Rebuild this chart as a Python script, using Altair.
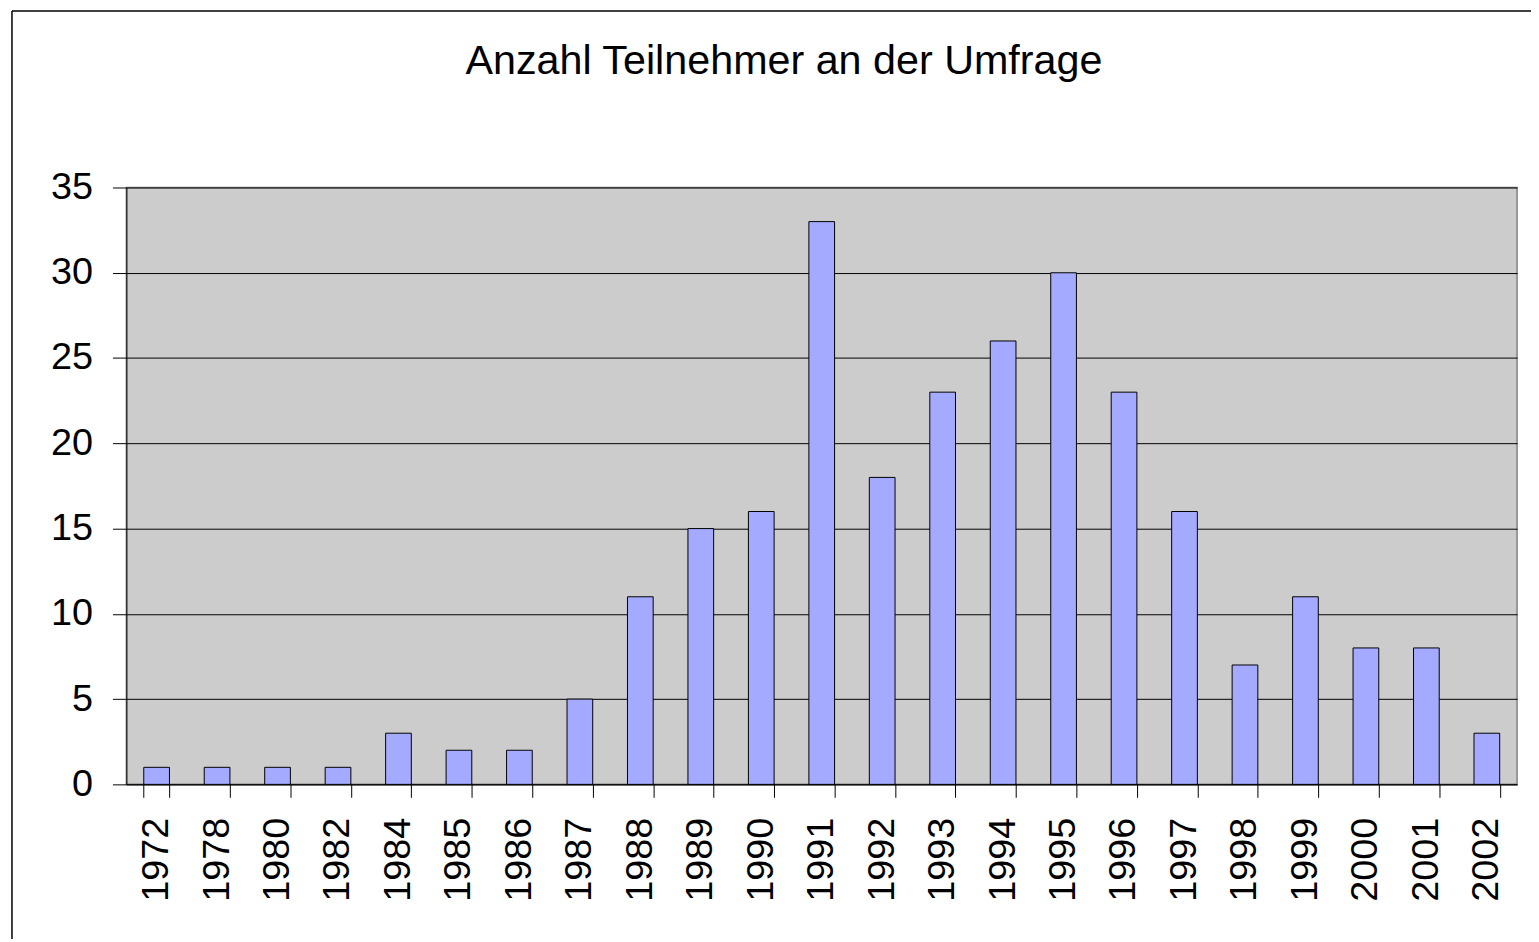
import altair as alt
import pandas as pd

years = ["1972", "1978", "1980", "1982", "1984", "1985", "1986", "1987", "1988",
         "1989", "1990", "1991", "1992", "1993", "1994", "1995", "1996", "1997",
         "1998", "1999", "2000", "2001", "2002"]
counts = [1, 1, 1, 1, 3, 2, 2, 5, 11, 15, 16, 33, 18, 23, 26, 30, 23, 16, 7, 11, 8, 8, 3]
y_ticks = [0, 5, 10, 15, 20, 25, 30, 35]

df = pd.DataFrame({"Jahr": years, "Anzahl": counts})
FONT = "Liberation Sans"

W, H = 1398, 600
one = pd.DataFrame({"a": [0]})

frame_top = alt.Chart(one).mark_rule(color="black", strokeWidth=1.5, clip=False).encode(
    x=alt.value(-115), x2=alt.value(W + 14), y=alt.value(-177.5))
frame_left = alt.Chart(one).mark_rule(color="black", strokeWidth=1.5, clip=False).encode(
    x=alt.value(-115), y=alt.value(-177.5), y2=alt.value(H + 160))

bars = alt.Chart(df).mark_bar(
    color="#A4AAFF", stroke="black", strokeWidth=1
).encode(
    x=alt.X("Jahr:N", sort=years, title=None,
            scale=alt.Scale(paddingInner=0.575, paddingOuter=0.2875),
            axis=alt.Axis(labelAngle=270, labelFont=FONT, labelFontSize=38,
                          labelColor="black", labelPadding=20, tickSize=13,
                          tickColor="black", domainColor="black", tickBand="extent",
                          labelAlign="right", labelBaseline="middle")),
    y=alt.Y("Anzahl:Q", title=None,
            scale=alt.Scale(domain=[0, 35], nice=False),
            axis=alt.Axis(values=y_ticks, labelFont=FONT, labelFontSize=38,
                          labelColor="black", labelPadding=20, tickSize=14,
                          tickColor="black", domainColor="black",
                          grid=True, gridColor="black", gridWidth=1)),
)

chart = alt.layer(bars, frame_top, frame_left).properties(
    width=W, height=H,
    title=alt.TitleParams("Anzahl Teilnehmer an der Umfrage", font=FONT,
                          fontSize=41.5, fontWeight="normal", color="black",
                          anchor="middle", dx=-38, offset=-106, baseline="alphabetic"),
    autosize=alt.AutoSizeParams(type="none"),
    padding={"left": 119, "top": 178, "right": 14, "bottom": 153},
    background="white",
).configure_view(fill="#CCCCCC", stroke="#808080", strokeWidth=1.5)

chart.save("out.html", embed_options={"renderer": "svg", "actions": False})
